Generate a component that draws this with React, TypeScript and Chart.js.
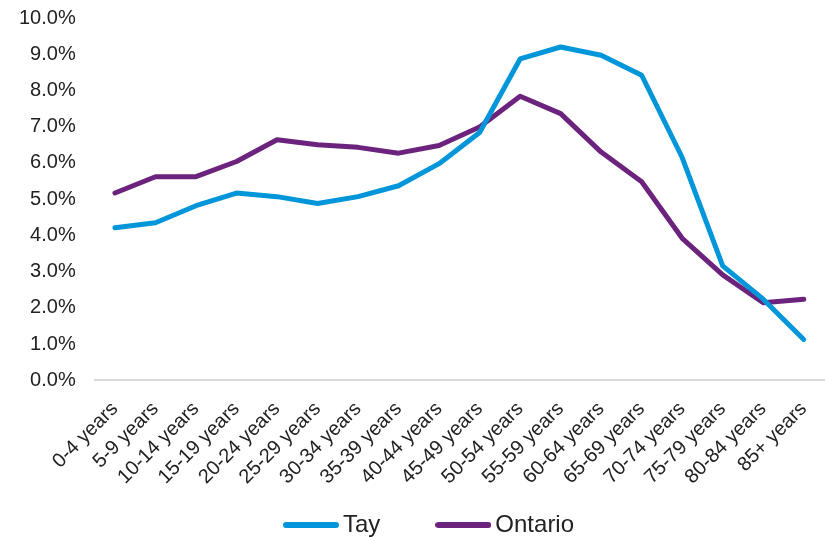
import React, { useEffect, useRef } from "react";
import { Chart, registerables } from "chart.js";

Chart.register(...registerables);

const categories = [
  "0-4 years", "5-9 years", "10-14 years", "15-19 years", "20-24 years",
  "25-29 years", "30-34 years", "35-39 years", "40-44 years", "45-49 years",
  "50-54 years", "55-59 years", "60-64 years", "65-69 years", "70-74 years",
  "75-79 years", "80-84 years", "85+ years",
];

const tayValues = [4.21, 4.35, 4.82, 5.17, 5.07, 4.88, 5.07, 5.37, 5.98, 6.84, 8.87, 9.2, 8.97, 8.42, 6.15, 3.16, 2.24, 1.13];
const ontarioValues = [5.17, 5.62, 5.62, 6.04, 6.64, 6.5, 6.43, 6.27, 6.48, 6.99, 7.84, 7.36, 6.3, 5.48, 3.92, 2.91, 2.14, 2.24];

const yTickMin = 0;
const yTickMax = 10;
const yTickStep = 1;

const TAY_COLOR = "#0096D9";
const ONT_COLOR = "#6B237D";
const LEGEND_PAD = 63;

function makeLineMarker(color: string) {
  const c = document.createElement("canvas");
  c.width = 56;
  c.height = 8;
  const ctx = c.getContext("2d")!;
  ctx.strokeStyle = color;
  ctx.lineWidth = 6;
  ctx.lineCap = "round";
  ctx.beginPath();
  ctx.moveTo(3, 4);
  ctx.lineTo(53, 4);
  ctx.stroke();
  return c;
}

const legendPlace = {
  id: "legendPlace",
  beforeDraw(chart: any) {
    const l = chart.legend;
    if (!l) return;
    l.left = 291 - LEGEND_PAD;
    l.top = 513 - LEGEND_PAD;
  },
};

export default function App() {
  const ref = useRef<HTMLCanvasElement | null>(null);
  useEffect(() => {
    document.body.style.margin = "0";
    if (!ref.current) return;
    const font = "'Liberation Sans', Arial, sans-serif";
    const chart = new Chart(ref.current, {
      type: "line",
      data: {
        labels: categories,
        datasets: [
          {
            label: "Tay",
            data: tayValues,
            borderColor: TAY_COLOR,
            backgroundColor: TAY_COLOR,
            borderWidth: 5,
            pointRadius: 0,
            pointStyle: makeLineMarker(TAY_COLOR) as any,
            borderJoinStyle: "round",
            borderCapStyle: "round",
            tension: 0,
          },
          {
            label: "Ontario",
            data: ontarioValues,
            borderColor: ONT_COLOR,
            backgroundColor: ONT_COLOR,
            borderWidth: 5,
            pointRadius: 0,
            pointStyle: makeLineMarker(ONT_COLOR) as any,
            borderJoinStyle: "round",
            borderCapStyle: "round",
            tension: 0,
          },
        ],
      },
      options: {
        animation: false,
        responsive: true,
        maintainAspectRatio: false,
        layout: { padding: { left: 8, right: 3, top: 18, bottom: 0 } },
        plugins: {
          tooltip: { enabled: false },
          legend: {
            position: "bottom",
            align: "start",
            maxHeight: 39,
            labels: {
              usePointStyle: true,
              pointStyleWidth: 40,
              color: "#222",
              padding: LEGEND_PAD,
              font: { family: font, size: 24 },
            },
          },
        },
        scales: {
          x: {
            offset: true,
            grid: { display: false },
            border: { display: true, color: "#D9D9D9", width: 2 },
            afterFit: (scale: any) => {
              scale.paddingRight = 0;
            },
            ticks: {
              minRotation: 45,
              maxRotation: 45,
              autoSkip: false,
              color: "#222",
              padding: 9,
              font: { family: font, size: 20 },
            },
          },
          y: {
            min: yTickMin,
            max: yTickMax,
            grid: { display: false },
            border: { display: false },
            afterFit: (scale: any) => {
              scale.paddingTop = 0;
            },
            ticks: {
              stepSize: yTickStep,
              color: "#222",
              padding: 11,
              font: { family: font, size: 20 },
              callback: (v: any) => Number(v).toFixed(1) + "%",
            },
          },
        },
      },
      plugins: [legendPlace],
    });
    return () => chart.destroy();
  }, []);
  return (
    <div style={{ width: 827, height: 537, position: "relative" }}>
      <canvas ref={ref} />
    </div>
  );
}
